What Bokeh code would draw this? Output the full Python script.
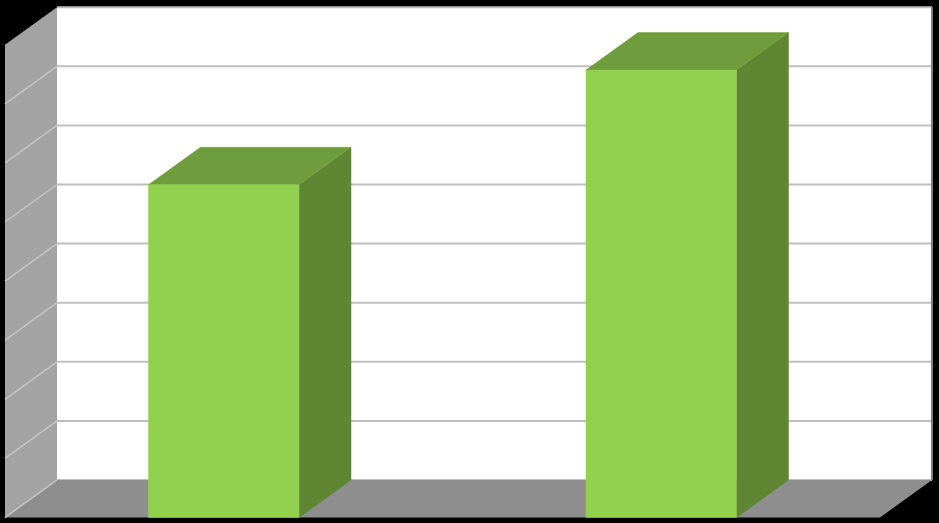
from bokeh.embed import file_html
from bokeh.models import Range1d
from bokeh.plotting import figure
from bokeh.resources import INLINE

# Data (the reference prints no labels)
categories = ["first", "second"]
values = [5.63, 7.57]
grid_levels = [0, 1, 2, 3, 4, 5, 6, 7, 8]

# Layout of the fake 3-D box, in data units
W, H = 939, 523
PX_PER_CAT = 437.5
PX_PER_UNIT = 59.1
LEFT_PX, BASE_PX = 4.5, 479.5
DX = 52.0 / PX_PER_CAT      # depth, horizontal
DY = 37.5 / PX_PER_UNIT     # depth, vertical
BAR_W = 0.344
N = len(categories)
TOP = grid_levels[-1]

p = figure(
    width=W, height=H, output_backend="svg", toolbar_location=None,
    x_axis_type="linear", y_axis_type="linear",
    x_range=Range1d(-LEFT_PX / PX_PER_CAT, (W - LEFT_PX) / PX_PER_CAT),
    y_range=Range1d(-(H - BASE_PX) / PX_PER_UNIT, BASE_PX / PX_PER_UNIT),
    min_border=0, background_fill_color="#000000", border_fill_color="#000000",
    outline_line_color=None,
)
p.axis.visible = False
p.grid.visible = False

# Back wall
p.patch([DX, N + DX, N + DX, DX], [0, 0, TOP, TOP],
        fill_color="#FFFFFF", line_color=None)
# Back wall grid lines
p.multi_line([[DX, N + DX] for _ in grid_levels], [[g, g] for g in grid_levels],
             line_color="#BFBFBF", line_width=2)
# Right edge of the back wall
p.line([N + DX, N + DX], [0, TOP], line_color="#7F7F7F", line_width=2)

# Left wall
p.patch([0, DX, DX, 0], [-DY, 0, TOP, TOP - DY],
        fill_color="#A3A3A3", line_color=None)
p.multi_line([[0, DX] for _ in grid_levels[:-1]],
             [[g - DY, g] for g in grid_levels[:-1]],
             line_color="#C4C4C4", line_width=1.5)

# Floor
p.patch([0, N, N + DX, DX], [-DY, -DY, 0, 0],
        fill_color="#8E8E8E", line_color=None)
p.line([0, DX], [-DY, 0], line_color="#C4C4C4", line_width=1.5)

# Bars
for i, v in enumerate(values):
    x0 = i + 0.5 - BAR_W / 2
    x1 = i + 0.5 + BAR_W / 2
    y0 = -DY
    y1 = v - DY
    p.patch([x1, x1 + DX, x1 + DX, x1], [y0, y0 + DY, y1 + DY, y1],
            fill_color="#5F8632", line_color="#5F8632", line_width=0.5)
    p.patch([x0, x1, x1 + DX, x0 + DX], [y1, y1, y1 + DY, y1 + DY],
            fill_color="#6F9C3C", line_color="#6F9C3C", line_width=0.5)
    p.patch([x0, x1, x1, x0], [y0, y0, y1, y1],
            fill_color="#92D050", line_color="#92D050", line_width=0.5)

page = file_html(p, INLINE)
page = page.replace(
    "</head>",
    "<style>html,body{margin:0;padding:0;background:#000;overflow:hidden}</style></head>",
    1,
)
open("out.html", "w").write(page)
